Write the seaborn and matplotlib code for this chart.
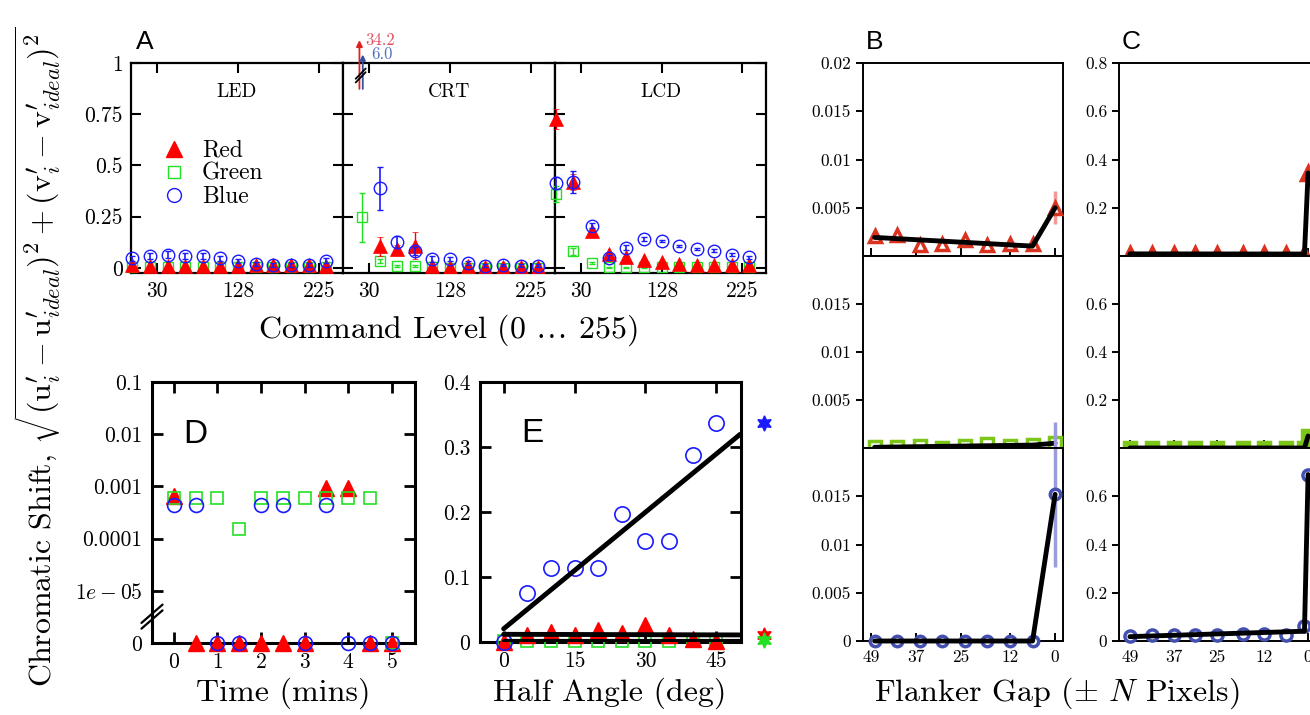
import numpy as np
import matplotlib
matplotlib.use("Agg")
import matplotlib.pyplot as plt
from matplotlib.lines import Line2D
import seaborn as sns

# ---------------- data ----------------
# Panel A: command levels
level = [0, 21, 43, 64, 85, 106, 128, 149, 170, 191, 213, 234]
a_xticks = [30, 128, 225]
a_yticks = [0, 0.25, 0.5, 0.75, 1]
a_ylabels = ["0", "0.25", "0.5", "0.75", "1"]

led_red = [0.012, 0.010, 0.010, 0.010, 0.010, 0.010, 0.010, 0.012, 0.012, 0.012, 0.012, 0.010]
led_red_err = [0.006, 0.006, 0.006, 0.006, 0.006, 0.006, 0.008, 0.010, 0.010, 0.010, 0.010, 0.008]
led_green = [0.002, 0.002, 0.002, 0.002, 0.002, 0.002, 0.002, 0.002, 0.002, 0.002, 0.002, 0.002]
led_green_err = [0.002] * 12
led_blue = [0.046, 0.060, 0.065, 0.060, 0.058, 0.046, 0.034, 0.020, 0.015, 0.015, 0.015, 0.034]
led_blue_err = [0.010, 0.015, 0.015, 0.015, 0.015, 0.012, 0.010, 0.010, 0.010, 0.010, 0.010, 0.012]

crt_red = [np.nan, 34.2, 0.105, 0.093, 0.109, 0.008, 0.006, 0.008, 0.006, 0.006, 0.006, 0.006]
crt_red_err = [0, 0, 0.048, 0.020, 0.065, 0.005, 0.005, 0.005, 0.005, 0.005, 0.005, 0.005]
crt_green = [np.nan, 0.247, 0.032, 0.008, 0.008, 0.002, 0.001, 0.001, 0.001, 0.001, 0.001, 0.001]
crt_green_err = [0, 0.120, 0.010, 0.004, 0.004, 0.002, 0.002, 0.002, 0.002, 0.002, 0.002, 0.002]
crt_blue = [np.nan, 6.0, 0.388, 0.125, 0.084, 0.044, 0.044, 0.024, 0.011, 0.015, 0.011, 0.011]
crt_blue_err = [0, 0, 0.105, 0.030, 0.020, 0.015, 0.010, 0.010, 0.006, 0.006, 0.006, 0.006]

lcd_red = [0.726, 0.420, 0.180, 0.068, 0.052, 0.039, 0.028, 0.020, 0.016, 0.014, 0.012, 0.012]
lcd_red_err = [0.050, 0.040, 0.010, 0.006, 0.005, 0.004, 0.004, 0.004, 0.004, 0.004, 0.004, 0.004]
lcd_green = [0.360, 0.080, 0.023, 0.003, 0.003, 0.003, 0.002, 0.002, 0.002, 0.002, 0.002, 0.002]
lcd_green_err = [0.040, 0.015, 0.005, 0.003, 0.003, 0.003, 0.002, 0.002, 0.002, 0.002, 0.002, 0.002]
lcd_blue = [0.414, 0.420, 0.206, 0.049, 0.099, 0.141, 0.131, 0.109, 0.093, 0.084, 0.065, 0.052]
lcd_blue_err = [0.030, 0.055, 0.012, 0.012, 0.012, 0.012, 0.006, 0.005, 0.006, 0.008, 0.008, 0.008]

# Panel D: time series
time_min = [0, 0.5, 1, 1.5, 2, 2.5, 3, 3.5, 4, 4.5, 5]
d_red = [6.5e-4, 0, 0, 0, 0, 0, 0, 9.5e-4, 9.5e-4, 0, 0]
d_green = [6.1e-4, 6.1e-4, 6.1e-4, 1.5e-4, 6.1e-4, 6.1e-4, 6.1e-4, 6.1e-4, 6.1e-4, 6.1e-4, 0]
d_blue = [4.4e-4, 4.4e-4, 0, 0, 4.4e-4, 4.4e-4, 0, 4.4e-4, 0, 0, 0]
d_yticks = [1e-6, 1e-5, 1e-4, 1e-3, 1e-2, 1e-1]
d_ylabels = ["0", "$1e-05$", "0.0001", "0.001", "0.01", "0.1"]

# Panel E: half angle
angle = [0, 5, 10, 15, 20, 25, 30, 35, 40, 45]
e_blue = [0.0, 0.075, 0.114, 0.114, 0.114, 0.197, 0.155, 0.155, 0.288, 0.337]
e_red = [0.0, 0.011, 0.016, 0.011, 0.019, 0.014, 0.026, 0.011, 0.004, 0.002]
e_green = [0.001, 0.001, 0.001, 0.001, 0.001, 0.001, 0.001, 0.001, 0.001, 0.001]
e_star_x = 55
e_star_red = 0.011
e_star_green = 0.003
e_star_blue = 0.337

# Panels B and C: flanker gap
b_gap = [48, 42, 36, 30, 24, 18, 12, 6, 0]
b_red = [0.0021, 0.0022, 0.0011, 0.0012, 0.0017, 0.0011, 0.0012, 0.0012, 0.0050]
b_red_err = [0.0003, 0.0002, 0.0002, 0.0002, 0.0003, 0.0002, 0.0002, 0.0002, 0.0017]
b_green = [0.0001, 0.0001, 0.0002, 0.0, 0.0002, 0.0004, 0.0002, 0.0003, 0.0005]
b_green_err = [0.0001] * 9
b_blue = [0.0, 0.0, 0.0, 0.0, 0.0, 0.0, 0.0, 0.0, 0.0152]
b_blue_err = [0, 0, 0, 0, 0, 0, 0, 0, 0.0075]

c_gap = [49, 43, 37, 31, 25, 18, 12, 6, 1, 0]
c_red = [0.008, 0.009, 0.009, 0.008, 0.010, 0.008, 0.008, 0.008, 0.008, 0.344]
c_green = [0.0, 0.0, 0.0, 0.0, 0.0, 0.0, 0.0, 0.0, 0.0, 0.050]
c_blue = [0.022, 0.025, 0.025, 0.025, 0.023, 0.028, 0.029, 0.025, 0.063, 0.690]
c_zero_err = [0.0] * 10

gap_ticks = [49, 37, 25, 12, 0]

# ---------------- style ----------------
sns.set_style("ticks")
plt.rcParams.update({
    "font.family": ["cmr10", "DejaVu Serif"],
    "mathtext.fontset": "cm",
    "axes.formatter.use_mathtext": True,
    "axes.edgecolor": "black",
    "xtick.color": "black",
    "ytick.color": "black",
    "text.color": "black",
    "axes.unicode_minus": False,
})

RED, GREEN, BLUE = "#ff0000", "#22e022", "#1a1aff"
FR, FR_L = "#d9321f", "#f29a9a"
FG = "#7cc61a"
FB, FB_L = "#4450b0", "#9c9cdc"

W, H = 1310, 715
fig = plt.figure(figsize=(W / 100, H / 100), dpi=100)


def add_ax(l, t, r, b):
    return fig.add_axes([l / W, 1 - b / H, (r - l) / W, (b - t) / H])


def setclip(container, clip):
    for art in container.get_children():
        art.set_clip_on(clip)


# ---------------- Panel A ----------------
a_sets = [
    ("LED", led_red, led_red_err, led_green, led_green_err, led_blue, led_blue_err, False),
    ("CRT", crt_red, crt_red_err, crt_green, crt_green_err, crt_blue, crt_blue_err, True),
    ("LCD", lcd_red, lcd_red_err, lcd_green, lcd_green_err, lcd_blue, lcd_blue_err, False),
]
a_boxes = [(131, 63, 343, 273), (343, 63, 555, 273), (555, 63, 766, 273)]
axA = []
for (name, r, re, g, ge, b, be, clip), box in zip(a_sets, a_boxes):
    ax = add_ax(*box)
    axA.append(ax)
    x = np.array(level, float)
    c = ax.errorbar(x, g, yerr=ge, fmt="s", ms=7, mfc="none", mec=GREEN, mew=1.0,
                    ecolor=GREEN, elinewidth=1, capsize=2, zorder=3)
    setclip(c, clip)
    c = ax.errorbar(x, r, yerr=re, fmt="^", ms=10, mfc=RED, mec=RED, mew=0.5,
                    ecolor=RED, elinewidth=1, capsize=2, zorder=4)
    setclip(c, clip)
    c = ax.errorbar(x, b, yerr=be, fmt="o", ms=9, mfc="none", mec=BLUE, mew=1.0,
                    ecolor=BLUE, elinewidth=1.2, capsize=2, zorder=5)
    setclip(c, clip)
    ax.set_xlim(-1.3, 254)
    ax.set_ylim(-0.025, 1.0)
    ax.set_xticks(a_xticks)
    ax.set_xticklabels([str(t) for t in a_xticks])
    ax.set_yticks(a_yticks)
    if name == "LED":
        ax.set_yticklabels(a_ylabels)
    else:
        ax.set_yticklabels([])
    ax.tick_params(direction="in", top=True, right=True, length=7, width=1.5,
                   labelsize=15.5, pad=6)
    for sp in ax.spines.values():
        sp.set_linewidth(1.6)
    ax.text(0.5, 0.862, name, transform=ax.transAxes, ha="center", va="center",
            fontsize=14)

# legend in LED
handles = [
    Line2D([], [], ls="none", marker="^", ms=11, mfc=RED, mec=RED),
    Line2D([], [], ls="none", marker="s", ms=8, mfc="none", mec=GREEN, mew=1),
    Line2D([], [], ls="none", marker="o", ms=10, mfc="none", mec=BLUE, mew=1),
]
axA[0].legend(handles, ["Red", "Green", "Blue"], loc="upper left",
              bbox_to_anchor=(0.09, 0.68), frameon=False, fontsize=17,
              handletextpad=0.6, labelspacing=0.04, handlelength=1.2,
              borderaxespad=0)

# off-scale arrows in CRT
axc = axA[1]
xa = level[1]
axc.annotate("", xy=(xa - 2.5, 1.125), xytext=(xa - 2.5, 0.86),
             arrowprops=dict(arrowstyle="-|>", color="#e02020", lw=1.3,
                             mutation_scale=9), annotation_clip=False)
axc.annotate("", xy=(xa + 1.5, 1.055), xytext=(xa + 1.5, 0.86),
             arrowprops=dict(arrowstyle="-|>", color="#3050a0", lw=1.3,
                             mutation_scale=8), annotation_clip=False)
axc.text(xa + 4, 1.11, f"{crt_red[1]:.1f}", color="#e05060", fontsize=12,
         va="center", ha="left", clip_on=False)
axc.text(xa + 12, 1.04, f"{crt_blue[1]:.1f}", color="#5070c0", fontsize=12,
         va="center", ha="left", clip_on=False)
for dy in (0.0, 0.018):
    axc.plot([xa - 7, xa + 5], [0.905 + dy, 0.955 + dy], color="black", lw=1.3,
             clip_on=False, zorder=6)

fig.text(448 / W, 1 - 330 / H, r"Command Level (0 $\ldots$ 255)",
         ha="center", va="center", fontsize=23)

# ---------------- Panel D ----------------
axD = add_ax(152, 382, 415, 643)


def floor0(v):
    return [1e-6 if val == 0 else val for val in v]


axD.set_yscale("log")
axD.plot(time_min, floor0(d_red), ls="none", marker="^", ms=11, mfc=RED, mec=RED,
         clip_on=False, zorder=3)
axD.plot(time_min, floor0(d_green), ls="none", marker="s", ms=9, mfc="none", mec=GREEN,
         mew=1.2, clip_on=False, zorder=4)
axD.plot(time_min, floor0(d_blue), ls="none", marker="o", ms=10, mfc="none", mec=BLUE,
         mew=1.2, clip_on=False, zorder=5)
axD.set_ylim(1e-6, 0.1)
axD.set_xlim(-0.5, 5.53)
axD.set_yticks(d_yticks)
axD.set_yticklabels(d_ylabels)
axD.yaxis.set_minor_locator(matplotlib.ticker.NullLocator())
axD.set_xticks([0, 1, 2, 3, 4, 5])
axD.set_xticklabels(["0", "1", "2", "3", "4", "5"])
axD.tick_params(direction="in", top=True, right=True, length=8, width=2,
                labelsize=15.5, pad=7)
for sp in axD.spines.values():
    sp.set_linewidth(2.2)
for dy in (0.0, 0.022):
    axD.plot([-0.04, 0.04], [0.055 + dy, 0.125 + dy], transform=axD.transAxes,
             color="black", lw=1.6, clip_on=False, zorder=6)
axD.text(0.165, 0.80, "D", transform=axD.transAxes, family="Liberation Sans",
         fontsize=24, ha="center", va="center")
fig.text(283 / W, 1 - 693 / H, "Time (mins)", ha="center", va="center", fontsize=23)

# ---------------- Panel E ----------------
axE = add_ax(480, 382, 741, 642)
axE.plot(angle, e_green, ls="none", marker="s", ms=9, mfc="none", mec=GREEN, mew=1.2,
         clip_on=False, zorder=3)
axE.plot(angle, e_red, ls="none", marker="^", ms=11, mfc=RED, mec=RED, clip_on=False,
         zorder=4)
axE.plot(angle, e_blue, ls="none", marker="o", ms=11, mfc="none", mec=BLUE, mew=1.2,
         clip_on=False, zorder=5)
fit_x = np.array([angle[0], 50.0])
for vals, lw in ((e_green, 3.0), (e_red, 3.5), (e_blue, 3.5)):
    p = np.polyfit(angle, vals, 1)
    sns.lineplot(x=fit_x, y=np.polyval(p, fit_x), ax=axE, color="black", lw=lw,
                 sort=False, estimator=None, zorder=6)
for v, col in ((e_star_red, RED), (e_star_green, GREEN), (e_star_blue, BLUE)):
    axE.plot([e_star_x], [v], ls="none", marker=(6, 1, 0), ms=11, color=col,
             clip_on=False, zorder=7)
axE.set_xlim(-5, 50.2)
axE.set_ylim(0, 0.4)
axE.set_xticks([0, 15, 30, 45])
axE.set_xticklabels(["0", "15", "30", "45"])
axE.set_yticks([0, 0.1, 0.2, 0.3, 0.4])
axE.set_yticklabels(["0", "0.1", "0.2", "0.3", "0.4"])
axE.tick_params(direction="in", top=True, right=True, length=8, width=2,
                labelsize=15.5, pad=7)
for sp in axE.spines.values():
    sp.set_linewidth(2.2)
axE.text(0.2, 0.80, "E", transform=axE.transAxes, family="Liberation Sans",
         fontsize=24, ha="center", va="center")
fig.text(610 / W, 1 - 693 / H, "Half Angle (deg)", ha="center", va="center", fontsize=23)

# ---------------- Panels B and C ----------------
rows_top = [(63, 256), (256, 448), (448, 641)]


def flank(ax, gaps, vals, errs, col, ecol, marker, ms, filled, ylim, yticks, ylabels,
          xlim, bottom):
    gaps = np.array(gaps, float)
    vals = np.array(vals, float)
    c = ax.errorbar(gaps, vals, yerr=errs, fmt="none", ecolor=ecol, elinewidth=2.5,
                    capsize=0, zorder=2)
    setclip(c, False)
    ax.plot(gaps, vals, ls="none", marker=marker, ms=ms,
            mfc=col if filled else "white", mec=col, mew=2.5, clip_on=False, zorder=3)
    p = np.polyfit(gaps[:-1], vals[:-1], 1)
    lx = [gaps[0], gaps[-2], gaps[-1]]
    ly = [np.polyval(p, gaps[0]), np.polyval(p, gaps[-2]), vals[-1]]
    sns.lineplot(x=lx, y=ly, ax=ax, color="black", lw=3.5, sort=False,
                 estimator=None, zorder=4)
    ax.lines[-1].set_clip_on(False)
    ax.set_xlim(*xlim)
    ax.set_ylim(*ylim)
    ax.set_yticks(yticks)
    ax.set_yticklabels(ylabels)
    ax.set_xticks(gap_ticks)
    ax.set_xticklabels([str(t) for t in gap_ticks] if bottom else [])
    ax.tick_params(axis="y", direction="out", length=5, width=1.4, labelsize=12.5,
                   right=False)
    ax.tick_params(axis="x", direction="in", length=6, width=1.4, labelsize=12.5,
                   top=False, pad=6)
    for sp in ax.spines.values():
        sp.set_linewidth(1.4)


b_specs = [
    (b_red, b_red_err, FR, FR_L, "^", 9, False,
     [0.005, 0.01, 0.015, 0.02], ["0.005", "0.01", "0.015", "0.02"]),
    (b_green, b_green_err, FG, FG, "s", 8, False,
     [0.005, 0.01, 0.015], ["0.005", "0.01", "0.015"]),
    (b_blue, b_blue_err, FB, FB_L, "o", 7.5, False,
     [0, 0.005, 0.01, 0.015], ["0", "0.005", "0.01", "0.015"]),
]
for i, ((t, bt), spec) in enumerate(zip(rows_top, b_specs)):
    ax = add_ax(863, t, 1063, bt)
    v, e, col, ecol, mk, ms, fl, yt, yl = spec
    flank(ax, b_gap, v, e, col, ecol, mk, ms, fl, (0, 0.02), yt, yl, (51.1, -2.1),
          i == 2)
    if i == 0:
        ax.text(0.06, 1.11, "B", transform=ax.transAxes, family="Liberation Sans",
                fontsize=19, ha="center", va="center")

c_specs = [
    (c_red, FR, "^", 10, True, [0.2, 0.4, 0.6, 0.8], ["0.2", "0.4", "0.6", "0.8"]),
    (c_green, FG, "s", 8.5, True, [0.2, 0.4, 0.6], ["0.2", "0.4", "0.6"]),
    (c_blue, FB, "o", 8, False, [0, 0.2, 0.4, 0.6], ["0", "0.2", "0.4", "0.6"]),
]
for i, ((t, bt), spec) in enumerate(zip(rows_top, c_specs)):
    ax = add_ax(1119, t, 1319, bt)
    v, col, mk, ms, fl, yt, yl = spec
    flank(ax, c_gap, v, c_zero_err, col, col, mk, ms, fl, (0, 0.8), yt, yl, (52, -3),
          i == 2)
    if i == 0:
        ax.text(0.06, 1.11, "C", transform=ax.transAxes, family="Liberation Sans",
                fontsize=19, ha="center", va="center")

fig.text(1057 / W, 1 - 693 / H, r"Flanker Gap ($\pm$ $N$ Pixels)",
         ha="center", va="center", fontsize=23)

# ---------------- labels ----------------
fig.text(145 / W, 1 - 42 / H, "A", family="Liberation Sans", fontsize=19,
         ha="center", va="center")
fig.text(38 / W, 1 - 357 / H,
         r"Chromatic Shift, $\sqrt{(\mathrm{u}^{\prime}_{i} - \mathrm{u}^{\prime}_{ideal})^{2}"
         r" + (\mathrm{v}^{\prime}_{i} - \mathrm{v}^{\prime}_{ideal})^{2}}$",
         rotation=90, ha="center", va="center", fontsize=23)

fig.savefig("out.png", dpi=100)
